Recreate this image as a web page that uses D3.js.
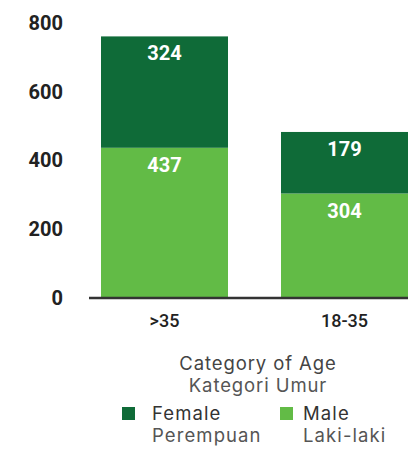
<!DOCTYPE html>
<html>
<head>
<meta charset="utf-8">
<script src="https://cdn.jsdelivr.net/npm/d3@7"></script>
<style>
  html, body { margin: 0; padding: 0; background: #fff; }
  svg { display: block; }
</style>
</head>
<body>
<svg id="chart" width="408" height="450"></svg>
<script>
// Age categories and stacked counts
const categories = [">35", "18-35"];
const male = [437, 304];
const female = [324, 179];
const yTicks = [0, 200, 400, 600, 800];

const seriesKeys = ["male", "female"];
const seriesColors = { male: "#62bb46", female: "#0f6b38" };

const rows = categories.map((c, i) => ({ category: c, male: male[i], female: female[i] }));
const stacked = d3.stack().keys(seriesKeys)(rows);

const svg = d3.select("#chart");

const x = d3.scaleBand()
  .domain(categories)
  .range([101, 408])
  .paddingInner(53 / 180)
  .paddingOuter(0);

const y = d3.scaleLinear().domain([0, 800]).range([298, 23]);

// y-axis tick labels (no line, no tick marks)
const yAxis = d3.axisLeft(y).tickValues(yTicks).tickSize(0).tickPadding(0);
const gy = svg.append("g").attr("transform", "translate(63,0)").call(yAxis);
gy.select(".domain").remove();
gy.selectAll("text")
  .attr("font-family", "Roboto, sans-serif")
  .attr("font-weight", 700)
  .attr("font-size", 20)
  .attr("fill", "#222");

// stacked bars
svg.append("g").selectAll("g")
  .data(stacked)
  .join("g")
  .attr("fill", d => seriesColors[d.key])
  .selectAll("rect")
  .data(d => d)
  .join("rect")
  .attr("x", d => x(d.data.category))
  .attr("width", x.bandwidth())
  .attr("y", d => y(d[1]))
  .attr("height", d => y(d[0]) - y(d[1]));

// value labels near the top of each segment
svg.append("g").selectAll("g")
  .data(stacked)
  .join("g")
  .selectAll("text")
  .data(d => d.map(s => ({ s, key: d.key })))
  .join("text")
  .attr("x", d => x(d.s.data.category) + x.bandwidth() / 2)
  .attr("y", d => y(d.s[1]) + 24)
  .attr("text-anchor", "middle")
  .attr("font-family", "Roboto, sans-serif")
  .attr("font-weight", 700)
  .attr("font-size", 20)
  .attr("fill", "#fff")
  .text(d => d.s.data[d.key]);

// baseline / x axis
const xAxis = d3.axisBottom(x).tickSize(0).tickPadding(16);
const gx = svg.append("g").attr("transform", `translate(0,${y(0)})`).call(xAxis);
gx.select(".domain")
  .attr("d", `M89,0H408`)
  .attr("stroke", "#333")
  .attr("stroke-width", 2.5);
gx.selectAll("text")
  .attr("font-family", "Roboto, sans-serif")
  .attr("font-weight", 500)
  .attr("font-size", 18)
  .attr("fill", "#222");

// axis title
const titleFont = "Inter, 'Noto Sans', sans-serif";
const textSize = 18.5;
const spacing = 1.1;
svg.append("text")
  .attr("x", 258).attr("y", 370)
  .attr("text-anchor", "middle")
  .attr("font-family", titleFont)
  .attr("font-size", textSize)
  .attr("letter-spacing", 0.9)
  .attr("fill", "#444")
  .text("Category of Age");
svg.append("text")
  .attr("x", 258).attr("y", 392)
  .attr("text-anchor", "middle")
  .attr("font-family", titleFont)
  .attr("font-size", textSize)
  .attr("letter-spacing", 0.9)
  .attr("fill", "#555")
  .text("Kategori Umur");

// legend
const legendItems = [
  { key: "female", en: "Female", id: "Perempuan", x: 122, dx: 30 },
  { key: "male", en: "Male", id: "Laki-laki", x: 280, dx: 23 }
];
const lg = svg.append("g").selectAll("g").data(legendItems).join("g")
  .attr("transform", d => `translate(${d.x},0)`);
lg.append("rect")
  .attr("x", 0).attr("y", 407)
  .attr("width", 13).attr("height", 13)
  .attr("fill", d => seriesColors[d.key]);
lg.append("text")
  .attr("x", d => d.dx).attr("y", 420)
  .attr("font-family", titleFont)
  .attr("font-size", textSize)
  .attr("letter-spacing", spacing)
  .attr("fill", "#333")
  .text(d => d.en);
lg.append("text")
  .attr("x", d => d.dx).attr("y", 442)
  .attr("font-family", titleFont)
  .attr("font-size", textSize)
  .attr("letter-spacing", spacing)
  .attr("fill", "#555")
  .text(d => d.id);
</script>
</body>
</html>
